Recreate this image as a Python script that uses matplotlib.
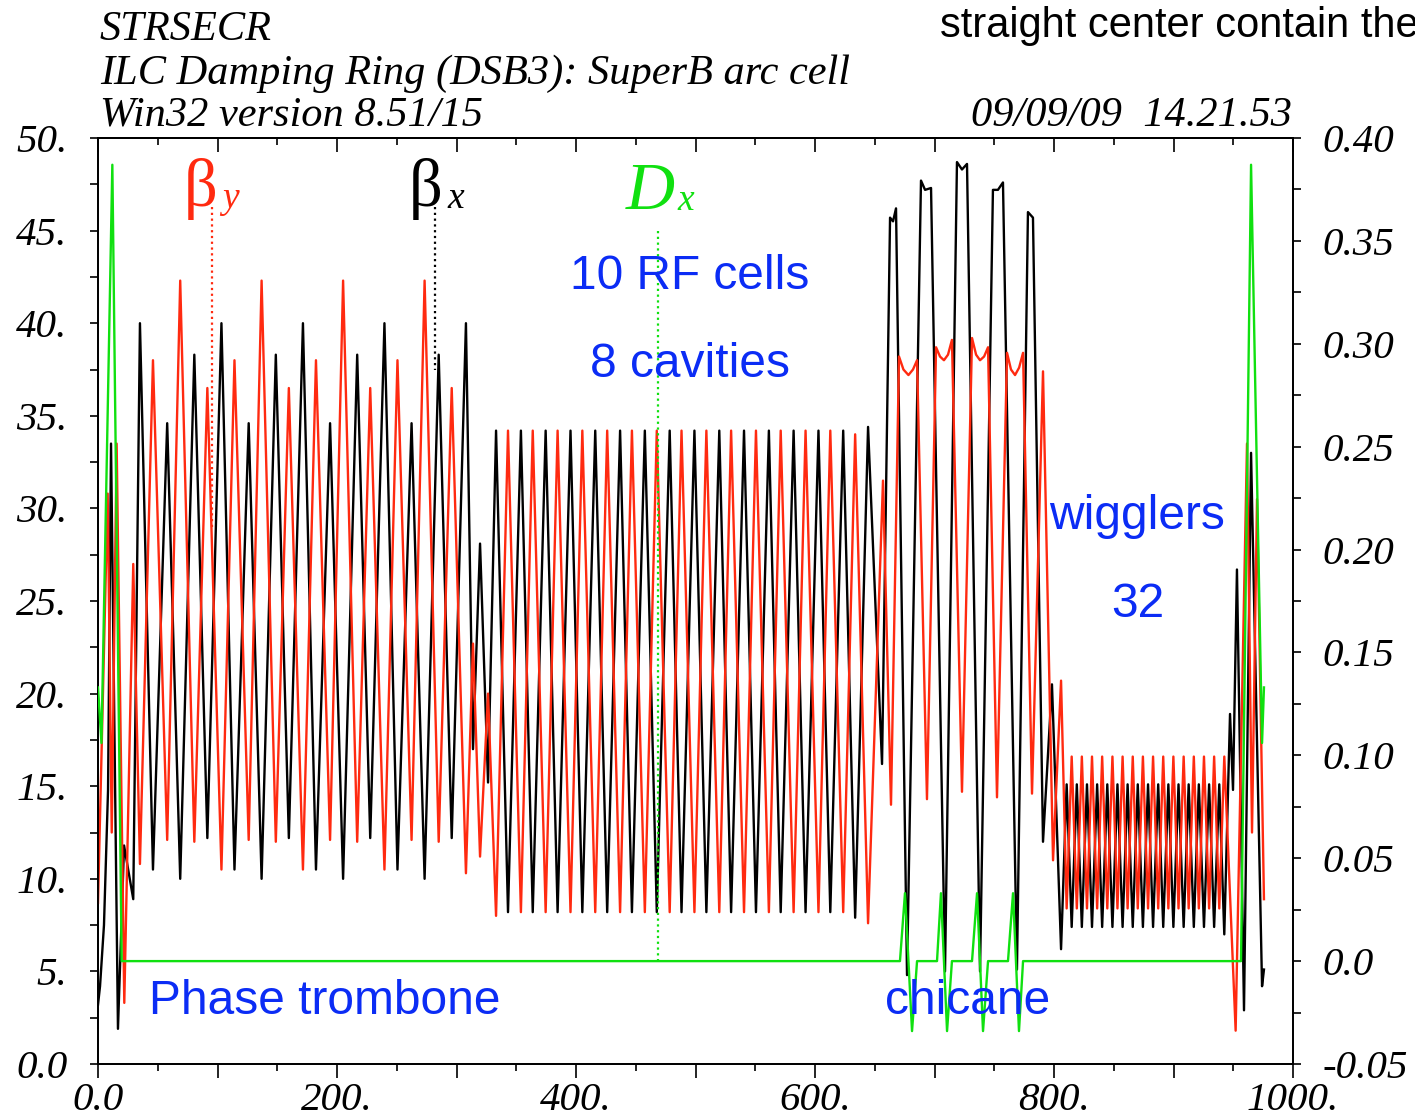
import matplotlib
matplotlib.use('Agg')
import matplotlib.pyplot as plt
from matplotlib.ticker import FixedLocator, FixedFormatter

# ---------------- data ----------------
# beta_x (black), vertices along s [m]
s_bx = [0.0, 1.7, 5.0, 8.4, 10.9, 16.7, 21.8, 29.5,
        35.1, 46.0, 57.9, 68.8, 80.6, 91.5, 103.3, 114.2, 126.1, 136.9, 148.8, 159.7,
        171.5, 182.4, 194.2, 205.1, 216.9, 227.8, 239.7, 250.6, 262.4, 273.3, 285.1, 296.0, 307.9,
        313.8, 319.7, 326.4,
        333.1, 343.1, 353.9, 363.8, 374.6, 384.6, 395.4, 405.3, 416.1, 426.1, 436.9, 446.8,
        457.6, 467.6, 478.4, 488.3, 499.1, 509.1, 519.9, 529.8, 540.6, 550.6, 561.4, 571.3,
        582.1, 592.1, 602.9, 612.8, 623.6, 633.6, 644.4,
        656.1, 662.8, 665.3, 667.8, 677.0, 688.7, 692.1, 697.1, 708.8, 718.8, 723.0, 727.2,
        738.1, 748.9, 753.1, 757.3, 769.0, 778.2, 782.4, 790.8, 798.3, 805.9,
        810.6, 814.8, 819.1, 823.3, 827.6, 831.8, 836.1, 840.3, 844.6, 848.9, 853.1, 857.4,
        861.6, 865.9, 870.1, 874.4, 878.7, 882.9, 887.2, 891.4, 895.7, 899.9, 904.2, 908.5,
        912.7, 917.0, 921.2, 925.5, 929.8, 934.0, 938.3, 942.5,
        947.3, 949.8, 953.1, 959.0, 964.9, 974.1, 975.7]
beta_x = [3.2, 4.2, 7.5, 14.8, 33.5, 1.9, 11.8, 8.9,
          40.0, 10.5, 34.6, 10.0, 38.3, 12.2, 40.0, 10.5, 34.6, 10.0, 38.3, 12.2,
          40.0, 10.5, 34.6, 10.0, 38.3, 12.2, 40.0, 10.5, 34.6, 10.0, 38.3, 12.2, 40.0,
          17.0, 28.1, 15.2,
          34.2, 8.2, 34.2, 8.2, 34.2, 8.2, 34.2, 8.2, 34.2, 8.2, 34.2, 8.2,
          34.2, 8.2, 34.2, 8.2, 34.2, 8.2, 34.2, 8.2, 34.2, 8.2, 34.2, 8.2,
          34.2, 8.2, 34.2, 8.2, 34.2, 7.9, 34.4,
          16.2, 45.7, 45.5, 46.2, 4.8, 47.7, 47.2, 47.3, 5.0, 48.7, 48.3, 48.6,
          5.0, 47.2, 47.2, 47.6, 5.1, 46.0, 45.7, 12.0, 20.5, 6.2,
          15.1, 7.4, 15.1, 7.4, 15.1, 7.4, 15.1, 7.4, 15.1, 7.4, 15.1, 7.4,
          15.1, 7.4, 15.1, 7.4, 15.1, 7.4, 15.1, 7.4, 15.1, 7.4, 15.1, 7.4,
          15.1, 7.4, 15.1, 7.4, 15.1, 7.4, 15.1, 7.0,
          18.9, 14.8, 26.7, 2.9, 33.0, 4.2, 5.1]

# beta_y (red)
s_by = [0.0, 8.1, 11.5, 15.6, 22.0, 29.5,
        35.1, 46.0, 57.9, 68.8, 80.6, 91.5, 103.3, 114.2, 126.1, 136.9, 148.8, 159.7,
        171.5, 182.4, 194.2, 205.1, 216.9, 227.8, 239.7, 250.6, 262.4, 273.3, 285.1, 296.0, 307.9,
        313.8, 319.7, 326.4, 333.1,
        343.1, 353.9, 363.8, 374.6, 384.6, 395.4, 405.3, 416.1, 426.1, 436.9, 446.8, 457.6,
        467.6, 478.4, 488.3, 499.1, 509.1, 519.9, 529.8, 540.6, 550.6, 561.4, 571.3, 582.1,
        592.1, 602.9, 612.8, 623.6, 633.6, 644.4, 656.9,
        663.6, 670.3, 674.0, 678.2, 682.0, 685.4, 693.7, 701.3, 704.6, 707.9, 711.3, 714.6,
        723.0, 731.4, 734.8, 738.1, 741.5, 744.8, 752.3, 760.7, 764.0, 767.4, 770.8, 774.1,
        781.6, 790.8, 799.2, 805.9,
        810.6, 814.8, 819.1, 823.3, 827.6, 831.8, 836.1, 840.3, 844.6, 848.9, 853.1, 857.4,
        861.6, 865.9, 870.1, 874.4, 878.7, 882.9, 887.2, 891.4, 895.7, 899.9, 904.2, 908.5,
        912.7, 917.0, 921.2, 925.5, 929.8, 934.0, 938.3, 942.5,
        952.0, 961.5, 965.7, 969.9, 975.7]
beta_y = [8.7, 30.8, 12.5, 33.5, 3.3, 27.0,
          10.8, 38.0, 12.1, 42.3, 12.0, 36.5, 10.5, 38.0, 12.1, 42.3, 12.0, 36.5,
          10.5, 38.0, 12.1, 42.3, 12.0, 36.5, 10.5, 38.0, 12.1, 42.3, 12.0, 36.5, 10.3,
          22.7, 11.2, 20.0, 8.0,
          34.2, 8.2, 34.2, 8.2, 34.2, 8.2, 34.2, 8.2, 34.2, 8.2, 34.2, 8.2,
          34.2, 8.2, 34.2, 8.2, 34.2, 8.2, 34.2, 8.2, 34.2, 8.2, 34.2, 8.2,
          34.2, 8.2, 34.2, 8.2, 34.0, 7.6, 31.5,
          14.0, 38.2, 37.5, 37.2, 37.5, 38.0, 14.3, 38.7, 38.2, 38.0, 38.3, 39.1,
          14.7, 39.2, 38.3, 38.0, 38.2, 38.7, 14.4, 38.4, 37.5, 37.2, 37.6, 38.4,
          14.6, 37.4, 11.0, 20.7,
          8.4, 16.6, 8.4, 16.6, 8.4, 16.6, 8.4, 16.6, 8.4, 16.6, 8.4, 16.6,
          8.4, 16.6, 8.4, 16.6, 8.4, 16.6, 8.4, 16.6, 8.4, 16.6, 8.4, 16.6,
          8.4, 16.6, 8.4, 16.6, 8.4, 16.6, 8.4, 16.6,
          1.8, 33.5, 12.5, 30.5, 8.9]

# D_x (green, right axis)
s_dx = [0.0, 2.9, 12.0, 19.8,
        671.1, 675.3, 681.2, 685.4, 702.1, 705.4, 710.5, 714.6,
        731.4, 735.6, 740.6, 744.8, 761.5, 765.7, 770.7, 774.1,
        956.5, 964.9, 974.1, 975.7]
d_x = [0.133, 0.106, 0.387, 0.0,
       0.0, 0.033, -0.034, 0.0, 0.0, 0.033, -0.034, 0.0,
       0.0, 0.033, -0.034, 0.0, 0.0, 0.033, -0.034, 0.0,
       0.0, 0.387, 0.106, 0.133]

# curve-label marker positions (s) : beta_y, beta_x, D_x
label_s = [95.0, 282.4, 468.6]

# tick labels
x_ticks = [0, 200, 400, 600, 800, 1000]
x_tick_labels = ['0.0', '200.', '400.', '600.', '800.', '1000.']
y_ticks = [0, 5, 10, 15, 20, 25, 30, 35, 40, 45, 50]
y_tick_labels = ['0.0', '5.', '10.', '15.', '20.', '25.', '30.', '35.', '40.', '45.', '50.']
y2_ticks = [-0.05, 0.0, 0.05, 0.10, 0.15, 0.20, 0.25, 0.30, 0.35, 0.40]
y2_tick_labels = ['-0.05', '0.0', '0.05', '0.10', '0.15', '0.20', '0.25', '0.30', '0.35', '0.40']

# ---------------- figure ----------------
plt.rcParams['font.family'] = ['Liberation Serif', 'DejaVu Serif']
plt.rcParams['font.style'] = 'italic'

W, H = 1415, 1119
fig = plt.figure(figsize=(W / 100, H / 100), dpi=100)
L, R, T, B = 98, 1293, 138, 1064
ax = fig.add_axes([L / W, 1 - B / H, (R - L) / W, (B - T) / H])

RED = '#ff2a10'
GREEN = '#10e010'
BLUE = '#0b2cf5'
LW = 1.7

ax.plot(s_bx, beta_x, color='black', lw=LW, zorder=3)
ax.plot(s_by, beta_y, color=RED, lw=LW, zorder=4)
ax.plot([label_s[0]] * 2, [46.3, 29.0], color=RED, lw=1.6, ls=(0, (1, 1.6)), zorder=5)
ax.plot([label_s[1]] * 2, [46.3, 37.5], color='black', lw=1.6, ls=(0, (1, 1.6)), zorder=5)

ax.set_xlim(0, 1000)
ax.set_ylim(0, 50)

ax2 = ax.twinx()
ax2.set_ylim(-0.05, 0.40)
ax2.plot(s_dx, d_x, color=GREEN, lw=LW, zorder=3)
ax2.plot([label_s[2]] * 2, [0.355, 0.0], color=GREEN, lw=1.6, ls=(0, (1, 1.6)), zorder=5)

# x ticks
maj_x = list(range(0, 1001, 100))
lab_map = dict(zip(x_ticks, x_tick_labels))
ax.xaxis.set_major_locator(FixedLocator(maj_x))
ax.xaxis.set_major_formatter(FixedFormatter([lab_map.get(v, '') for v in maj_x]))
ax.xaxis.set_minor_locator(FixedLocator(list(range(50, 1000, 100))))
ax.tick_params(axis='x', which='major', direction='out', length=10, width=1.2, labelsize=29.5, pad=3)
ax.tick_params(axis='x', which='minor', direction='out', length=5, width=1.2)
top = ax.secondary_xaxis('top')
top.xaxis.set_major_locator(FixedLocator(maj_x))
top.xaxis.set_minor_locator(FixedLocator(list(range(50, 1000, 100))))
top.tick_params(axis='x', which='major', direction='in', length=10, width=1.2, labeltop=False)
top.tick_params(axis='x', which='minor', direction='in', length=5, width=1.2)
top.spines['top'].set_linewidth(1.3)

# left ticks
ax.yaxis.set_major_locator(FixedLocator(y_ticks))
ax.yaxis.set_major_formatter(FixedFormatter(y_tick_labels))
ax.yaxis.set_minor_locator(FixedLocator([2.5 + 5 * k for k in range(10)]))
ax.tick_params(axis='y', which='both', direction='out', length=6, width=1.2, labelsize=29.5, pad=16)

# right ticks
ax2.yaxis.set_major_locator(FixedLocator(y2_ticks))
ax2.yaxis.set_major_formatter(FixedFormatter(y2_tick_labels))
ax2.yaxis.set_minor_locator(FixedLocator([-0.025 + 0.05 * k for k in range(9)]))
ax2.tick_params(axis='y', which='both', direction='out', length=6, width=1.2, labelsize=29.5, pad=15)

for a in (ax, ax2):
    for sp in a.spines.values():
        sp.set_linewidth(1.3)


def fx(px):
    return px / W


def fy(py):
    return 1 - py / H


# header texts
fig.text(fx(100), fy(40), 'STRSECR', fontsize=30.5, ha='left', va='baseline')
fig.text(fx(100), fy(84), 'ILC Damping Ring (DSB3): SuperB arc cell', fontsize=30.5, ha='left', va='baseline')
fig.text(fx(100), fy(126), 'Win32 version 8.51/15', fontsize=30.5, ha='left', va='baseline')
fig.text(fx(1292), fy(126), '09/09/09  14.21.53', fontsize=30.5, ha='right', va='baseline')
fig.text(fx(940), fy(37), 'straight center contain the', fontsize=30, ha='left', va='baseline',
         family='Liberation Sans', style='normal', color='black')

# curve labels
fig.text(fx(184), fy(206), '\u03b2', fontsize=48, style='normal', color=RED, ha='left', va='baseline')
fig.text(fx(222), fy(208), 'y', fontsize=27, color=RED, ha='left', va='baseline')
fig.text(fx(409), fy(206), '\u03b2', fontsize=48, style='normal', color='black', ha='left', va='baseline')
fig.text(fx(447), fy(208), 'x', fontsize=27, color='black', ha='left', va='baseline')
fig.text(fx(626), fy(209), 'D', fontsize=49, color=GREEN, ha='left', va='baseline')
fig.text(fx(677), fy(210), 'x', fontsize=27, color=GREEN, ha='left', va='baseline')

# blue annotations
kw = dict(family='Liberation Sans', style='normal', color=BLUE, fontsize=34.5, va='baseline')
fig.text(fx(690), fy(289), '10 RF cells', ha='center', **kw)
fig.text(fx(690), fy(377), '8 cavities', ha='center', **kw)
fig.text(fx(149), fy(1014), 'Phase trombone', ha='left', **kw)
fig.text(fx(885), fy(1014), 'chicane', ha='left', **kw)
fig.text(fx(1049), fy(529), 'wigglers', ha='left', **kw)
fig.text(fx(1111), fy(617), '32', ha='left', **kw)

fig.savefig('out.png', dpi=100)
